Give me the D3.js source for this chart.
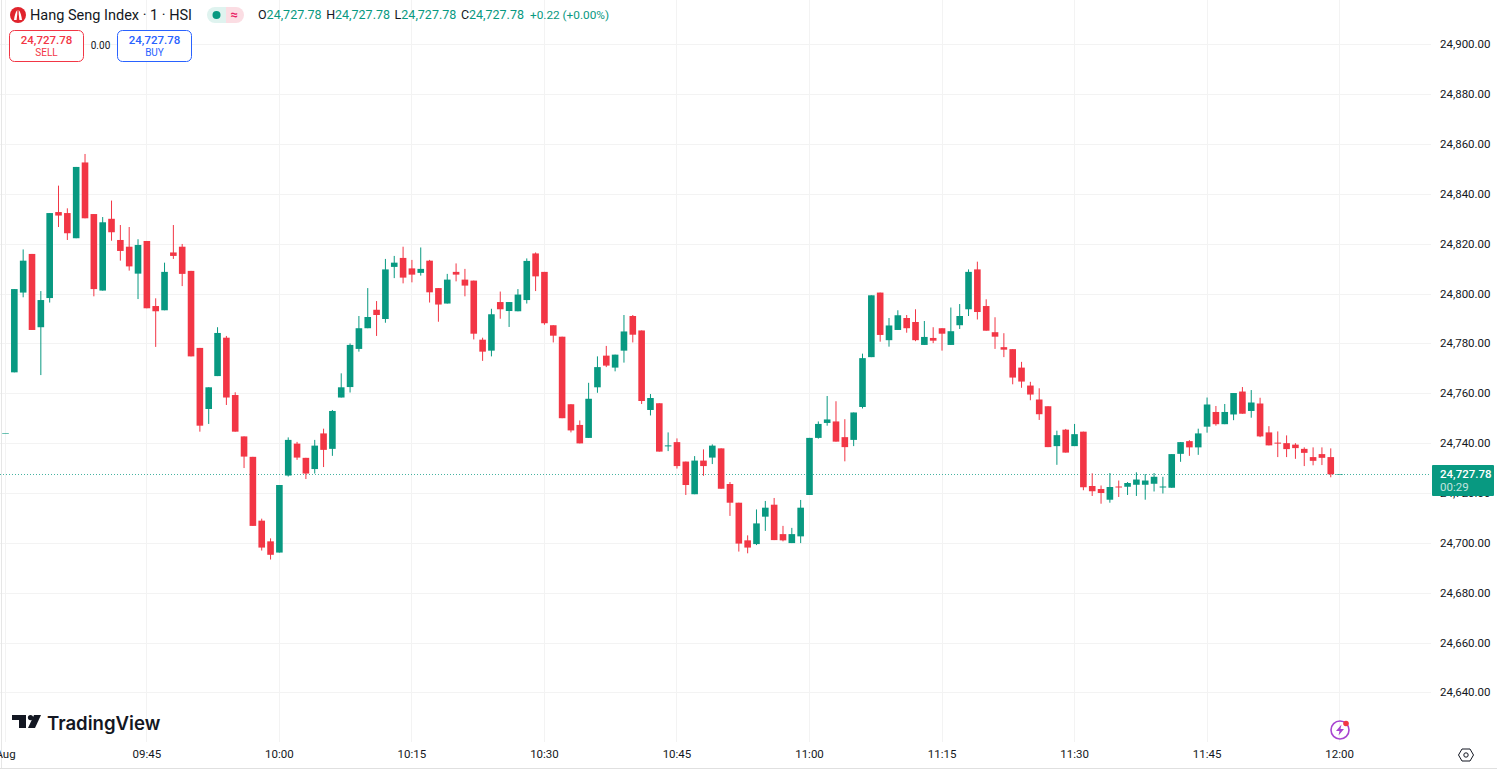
<!DOCTYPE html>
<html>

<head>
    <meta charset="utf-8">
    <style>
        html, body {
            margin: 0;
            padding: 0;
            background: #fff;
            overflow: hidden;
        }

        svg {
            display: block;
            font-family: Roboto, Arial, sans-serif;
        }

        .grid line {
            stroke: #f3f3f3;
            shape-rendering: crispEdges;
        }

        .axis .domain,
        .axis .tick line {
            display: none;
        }

        .axis .tick text {
            font-size: 11.5px;
            fill: #131722;
            font-family: Roboto, Arial, sans-serif;
        }
    </style>
</head>

<body>
    <svg width="1497" height="770"></svg>

    <script src="https://d3js.org/d3.v7.min.js"></script>
    <script>
        // one minute candles, first one is 09:29, last one is 12:00
        let startTime = Date.UTC(2025, 7, 1, 9, 29)

        let opens = [
            24744.4, 24768.6, 24800.6, 24816.1, 24786.7, 24798.4, 24832.9, 24832.5, 24822.4, 24852.8,
            24832.1, 24801.4, 24830.2, 24821.7, 24819, 24808.2, 24821.3, 24795.2, 24793.5, 24816.7,
            24819, 24809.3, 24778.4, 24753.9, 24767.1, 24782.5, 24759.5, 24742.9, 24734.7, 24709.1,
            24700.8, 24696.3, 24727.2, 24740, 24734.3, 24729.8, 24744.1, 24737.9, 24758.5, 24762.7,
            24778, 24786.3, 24793.7, 24790, 24810.9, 24814.5, 24810.3, 24808.5, 24813.4, 24802.4,
            24796.2, 24808.9, 24805.8, 24805.4, 24781.7, 24777.3, 24796.8, 24793.2, 24793.1, 24797.6,
            24816.3, 24808.9, 24787.5, 24782.9, 24755.8, 24747.5, 24742.3, 24762.6, 24775.3, 24770.5,
            24777.3, 24791.2, 24785.4, 24753.5, 24756.2, 24738.9, 24740.6, 24732.8, 24719.7, 24733.2,
            24734.4, 24738.1, 24723.8, 24716.3, 24701.2, 24699.7, 24710.7, 24715.5, 24703.7, 24700.1,
            24702.8, 24719.4, 24742.3, 24748.3, 24748.9, 24742.6, 24741.5, 24754.7, 24774.7, 24800.6,
            24781.5, 24785.6, 24790.4, 24788.8, 24779.6, 24782.4, 24786.3, 24779.6, 24787.5, 24793.9,
            24809.9, 24795.2, 24784.7, 24778.7, 24777.9, 24770.5, 24763.3, 24757.7, 24755, 24739,
            24745.6, 24739, 24744.8, 24723, 24721.8, 24717.5, 24722.8, 24722.7, 24723.5, 24723.5,
            24723.9, 24722.5, 24722.3, 24735.9, 24741, 24738.5, 24746.8, 24752.7, 24747.8, 24751.7,
            24760.9, 24753.1, 24756.1, 24744.5, 24740.4, 24740.2, 24739.6, 24737.9, 24734.6, 24735.8,
            24734.6, 24727.78
        ]

        let highs = [
            24744.4, 24802, 24817.9, 24816.1, 24801.2, 24832.5, 24843.5, 24834.4, 24851, 24856.2,
            24832.1, 24830.9, 24837.5, 24827.7, 24826.9, 24822, 24821.3, 24798.3, 24812.6, 24827.7,
            24820.1, 24809.3, 24778.4, 24762.6, 24786.7, 24783.2, 24760.6, 24742.9, 24734.7, 24709.9,
            24702, 24723.4, 24742.5, 24740.7, 24734.3, 24741.5, 24746, 24753.5, 24768.2, 24780.2,
            24791.2, 24802.4, 24797.2, 24814.1, 24815.3, 24819, 24813.7, 24818.7, 24813.7, 24802.4,
            24808.1, 24812.3, 24810.1, 24805.4, 24782.5, 24794.1, 24801, 24796.8, 24802, 24814.3,
            24816.7, 24808.9, 24787.5, 24782.9, 24755.8, 24749.3, 24764.4, 24775, 24779.2, 24775.7,
            24791.6, 24791.6, 24785.4, 24759.9, 24756.2, 24744.5, 24742.1, 24732.8, 24735, 24737.7,
            24739.7, 24738.1, 24724.6, 24716.3, 24703.2, 24713.6, 24717, 24718.2, 24707, 24706.2,
            24717.4, 24742.3, 24748.9, 24759.1, 24757, 24749.8, 24752.5, 24776.1, 24799.5, 24800.6,
            24790.4, 24793.5, 24791.6, 24793.9, 24789.2, 24786.7, 24786.3, 24794.6, 24796, 24809.9,
            24813, 24797.9, 24790.7, 24784.3, 24777.9, 24772.8, 24764.8, 24762.2, 24755, 24745.2,
            24745.9, 24747.9, 24744.8, 24728.1, 24723.2, 24728.2, 24725.2, 24724.6, 24728.5, 24727.8,
            24728.2, 24726.7, 24735.8, 24740.6, 24741.4, 24746, 24758.5, 24755.1, 24755.9, 24760.3,
            24762.7, 24761.5, 24758.4, 24747, 24744.9, 24743.3, 24740.2, 24738.5, 24738.5, 24738.5,
            24738.1, 24727.78
        ]

        let lows = [
            24744.4, 24768.6, 24798.7, 24785.6, 24767.5, 24796.6, 24826.9, 24821.7, 24822.4, 24830.4,
            24799.1, 24801.4, 24821.4, 24813.4, 24809.4, 24798, 24794.3, 24778.8, 24793.5, 24814.1,
            24803.2, 24775, 24744.8, 24747.9, 24767.1, 24755.5, 24744.8, 24730.2, 24707, 24697.1,
            24693.5, 24696.3, 24726.8, 24733.5, 24725.8, 24728, 24730.6, 24735.1, 24758.5, 24760.5,
            24776.9, 24786.3, 24783.2, 24788.5, 24806.4, 24804.3, 24804.7, 24807.4, 24796.6, 24788.9,
            24796.2, 24805.1, 24799.1, 24781.8, 24773.2, 24775, 24790.1, 24786.8, 24793.1, 24796.2,
            24801.2, 24787.7, 24780.6, 24750.2, 24744.5, 24740.1, 24742.3, 24760.4, 24770.7, 24769,
            24772.5, 24780.6, 24755.9, 24751.3, 24736.8, 24737, 24730, 24719.4, 24719.7, 24727.1,
            24731.8, 24721.9, 24711, 24696.7, 24696, 24699.3, 24705, 24701.3, 24700.8, 24700.1,
            24700.1, 24719.4, 24742, 24747.2, 24740.8, 24732.9, 24739, 24754.1, 24774.7, 24780.9,
            24778.9, 24785.6, 24784.5, 24781.1, 24779.6, 24780.3, 24777.3, 24779.6, 24786, 24791.2,
            24789.8, 24785.3, 24778, 24774.7, 24763.8, 24762.4, 24757.4, 24749.5, 24738.6, 24731.5,
            24736.4, 24739, 24721.3, 24719, 24715.9, 24716.3, 24718.6, 24719.4, 24719, 24717.5,
            24720.8, 24720, 24722.3, 24732.7, 24735.1, 24735.5, 24744.4, 24747.2, 24747.8, 24749.4,
            24752, 24750.4, 24742.6, 24739.3, 24734.6, 24734.6, 24733.9, 24731, 24731.3, 24731.4,
            24726.5, 24727.78
        ]

        let closes = [
            24744.4, 24802, 24813.4, 24785.6, 24797.6, 24832.5, 24831.5, 24824.4, 24851, 24830.4,
            24802, 24828.8, 24824.8, 24817.3, 24811.1, 24819.7, 24794.3, 24793.1, 24808.9, 24815.3,
            24808.1, 24775, 24747.2, 24762.6, 24784.4, 24758.5, 24744.8, 24734.8, 24707, 24698.3,
            24695.4, 24723.4, 24741.5, 24734.4, 24728, 24739.2, 24737.5, 24753.1, 24762.6, 24779.6,
            24786.3, 24790.8, 24791.6, 24809.9, 24812.6, 24806.6, 24807.8, 24810.1, 24800.7, 24795.8,
            24805.8, 24807.8, 24803.4, 24784.1, 24776.9, 24791.9, 24793.9, 24796.8, 24799.8, 24813.3,
            24807.1, 24788.3, 24783.3, 24750.2, 24745.3, 24740.1, 24758, 24770.7, 24771.3, 24775.7,
            24785, 24783.7, 24757.1, 24758.3, 24736.8, 24739.3, 24731, 24723.4, 24733.2, 24731,
            24739.2, 24721.9, 24716.3, 24699.9, 24698.3, 24708, 24714.3, 24701.3, 24701.2, 24703.7,
            24714.3, 24742.3, 24747.9, 24749.7, 24740.8, 24738.6, 24752.5, 24774.3, 24799.5, 24783.6,
            24787.4, 24791.5, 24786.3, 24781.5, 24782.8, 24781.3, 24784.1, 24785.1, 24791.2, 24808.9,
            24792.8, 24785.3, 24782.9, 24777.7, 24766.5, 24764.9, 24759.7, 24751.8, 24738.6, 24743.4,
            24736.4, 24743.8, 24722.5, 24720.9, 24720.2, 24722.6, 24722.6, 24724.2, 24725.6, 24725.2,
            24726.7, 24722.8, 24735.8, 24740.6, 24738.5, 24744.1, 24755.7, 24747.8, 24752.7, 24760.3,
            24752, 24756.5, 24742.9, 24739.3, 24740.1, 24737.8, 24738.2, 24736.3, 24733.1, 24734.3,
            24727.7, 24727.78
        ]

        let priceTicks = d3.range(24640, 24901, 20)
        let timeTicks = ["09:29", "09:45", "10:00", "10:15", "10:30", "10:45", "11:00", "11:15", "11:30", "11:45", "12:00"]
        let timeLabels = ["Aug", "09:45", "10:00", "10:15", "10:30", "10:45", "11:00", "11:15", "11:30", "11:45", "12:00"]
        let lastPrice = 24727.78

        let upColor = "#089981"
        let downColor = "#f23645"

        let svg = d3.select("svg")

        let data = opens.map(function (o, i) {
            return {
                time: new Date(startTime + i * 60000),
                open: o,
                high: highs[i],
                low: lows[i],
                close: closes[i]
            }
        })

        let paneRight = 1431
        let paneBottom = 742

        let parseTick = function (s) {
            let parts = s.split(":")
            return new Date(Date.UTC(2025, 7, 1, +parts[0], +parts[1]))
        }

        let x = d3.scaleUtc()
            .domain([data[0].time, data[data.length - 1].time])
            .range([5.5, 1339.6])

        let y = d3.scaleLinear()
            .domain([24640, 24900])
            .range([692.9, 44.8])

        // gridlines
        let grid = svg.append("g").attr("class", "grid")

        grid.selectAll(".h")
            .data(priceTicks)
            .join("line")
            .attr("class", "h")
            .attr("x1", 0)
            .attr("x2", paneRight)
            .attr("y1", d => y(d))
            .attr("y2", d => y(d))

        grid.selectAll(".v")
            .data(timeTicks.map(parseTick))
            .join("line")
            .attr("class", "v")
            .attr("x1", d => x(d))
            .attr("x2", d => x(d))
            .attr("y1", 0)
            .attr("y2", paneBottom)

        // left edge and bottom edge of the widget
        svg.append("line").attr("x1", 1).attr("x2", 1).attr("y1", 0).attr("y2", 768)
            .style("stroke", "#e6e6e6").style("shape-rendering", "crispEdges")
        svg.append("line").attr("x1", 0).attr("x2", 1497).attr("y1", 768).attr("y2", 768)
            .style("stroke", "#e0e0e0").style("shape-rendering", "crispEdges")

        // last price dotted line goes under the candles
        svg.append("line")
            .attr("x1", 0)
            .attr("x2", paneRight)
            .attr("y1", Math.round(y(lastPrice)) + .5)
            .attr("y2", Math.round(y(lastPrice)) + .5)
            .style("stroke", upColor)
            .style("stroke-width", 1)
            .style("stroke-opacity", .75)
            .style("stroke-dasharray", "1 2")

        let candles = svg.append("g")
            .selectAll("g")
            .data(data)
            .join("g")
            .style("color", d => d.close >= d.open ? upColor : downColor)

        candles.append("line")
            .attr("x1", d => x(d.time))
            .attr("x2", d => x(d.time))
            .attr("y1", d => y(d.high))
            .attr("y2", d => y(d.low))
            .style("stroke", "currentColor")
            .style("stroke-width", 1)

        // the flat candles snap to a pixel row so they stay a thin dash
        candles.append("rect")
            .attr("x", d => x(d.time) - 3.3)
            .attr("width", 6.6)
            .attr("y", d => d.high == d.low ? Math.round(y(d.open)) : y(Math.max(d.open, d.close)))
            .attr("height", d => Math.max(1, Math.abs(y(d.open) - y(d.close))))
            .style("fill", "currentColor")
            .style("opacity", d => d.high == d.low ? .6 : 1)

        // axes
        let yAxisSettings = d3.axisRight(y)
            .tickValues(priceTicks)
            .tickFormat(d3.format(",.2f"))
            .tickSize(0)
            .tickPadding(0)

        svg.append("g")
            .attr("class", "y axis")
            .attr("transform", "translate(1440,-0.7)")
            .call(yAxisSettings)

        let xAxisSettings = d3.axisBottom(x)
            .tickValues(timeTicks.map(parseTick))
            .tickFormat((d, i) => timeLabels[i])
            .tickSize(0)
            .tickPadding(0)

        svg.append("g")
            .attr("class", "x axis")
            .attr("transform", "translate(-0.5,750)")
            .call(xAxisSettings)

        // last price tag on the axis
        let tag = svg.append("g").attr("transform", "translate(1432," + Math.round(y(lastPrice)) + ")")
        tag.append("rect").attr("x", 0).attr("y", -9).attr("width", 62).attr("height", 31).attr("rx", 1).style("fill", upColor)
        tag.append("text").attr("x", 8).attr("y", 4).text(d3.format(",.2f")(lastPrice))
            .style("fill", "#fff").style("font-size", "11.5px").style("font-weight", 500)
        tag.append("text").attr("x", 8).attr("y", 17).text("00:29")
            .style("fill", "#fff").style("fill-opacity", .75).style("font-size", "11.5px")

        // legend row
        let legend = svg.append("g")
        legend.append("circle").attr("cx", 18).attr("cy", 15).attr("r", 8).style("fill", "#e0242d")
        legend.append("path").attr("d", "M17.3 10 C15.5 12 14.5 16 14 20 L16.6 20 L17.3 14 Z M18.7 10 C20.5 12 21.5 16 22 20 L19.4 20 L18.7 14 Z")
            .style("fill", "#fff")
        legend.append("text").attr("x", 30).attr("y", 20).text("Hang Seng Index · 1 · HSI")
            .style("font-size", "14.5px").style("fill", "#131722")

        legend.append("path").attr("d", "M226 7 H215 a8 8 0 0 0 0 16 H226 Z").style("fill", "#dff3ef")
        legend.append("path").attr("d", "M226 7 H236 a8 8 0 0 1 0 16 H226 Z").style("fill", "#fbdde3")
        legend.append("circle").attr("cx", 216.5).attr("cy", 15).attr("r", 4).style("fill", upColor)
        legend.append("text").attr("x", 234).attr("y", 19).attr("text-anchor", "middle").text("≈")
            .style("font-size", "13px").style("font-weight", 700).style("fill", "#e91e63")

        let ohlc = legend.append("text").attr("x", 258).attr("y", 19).style("font-size", "12.5px")
        let ohlcParts = [["O", "24,727.78"], ["H", "24,727.78"], ["L", "24,727.78"], ["C", "24,727.78"]]
        ohlcParts.forEach(function (p, i) {
            ohlc.append("tspan").attr("dx", i ? 4.6 : 0).text(p[0]).style("fill", "#131722")
            ohlc.append("tspan").text(p[1]).style("fill", upColor)
        })
        ohlc.append("tspan").attr("dx", 6).text("+0.22 (+0.00%)").style("fill", upColor).style("font-size", "11.8px")

        // sell and buy buttons
        let buttons = [
            { left: 9.5, color: downColor, label: "SELL" },
            { left: 117.5, color: "#2962ff", label: "BUY" }
        ]
        buttons.forEach(function (b) {
            svg.append("rect").attr("x", b.left).attr("y", 30.5).attr("width", 74).attr("height", 31).attr("rx", 5)
                .style("fill", "#fff").style("stroke", b.color)
            svg.append("text").attr("x", b.left + 37).attr("y", 44).attr("text-anchor", "middle").text("24,727.78")
                .style("fill", b.color).style("font-size", "11.5px").style("font-weight", 500)
            svg.append("text").attr("x", b.left + 37).attr("y", 56).attr("text-anchor", "middle").text(b.label)
                .style("fill", b.color).style("font-size", "10px")
        })
        svg.append("text").attr("x", 100.5).attr("y", 49).attr("text-anchor", "middle").text("0.00")
            .style("fill", "#131722").style("font-size", "10px")

        // logo
        let logo = svg.append("g").attr("transform", "translate(12,715)").style("fill", "#131722")
        logo.append("path").attr("d", "M0 0 H14 V13 H7 V5 H0 Z")
        logo.append("circle").attr("cx", 18.5).attr("cy", 2.6).attr("r", 2.6)
        logo.append("path").attr("d", "M22 0 H29 L23 13 H16 Z")
        svg.append("text").attr("x", 47).attr("y", 729.5).text("TradingView")
            .style("font-family", "Inter, Roboto, sans-serif").style("font-size", "18.6px").style("font-weight", 600).style("fill", "#131722")

        // lightning icon
        svg.append("circle").attr("cx", 1340).attr("cy", 730).attr("r", 9)
            .style("fill", "none").style("stroke", "#a845d0").style("stroke-width", 1.6)
        svg.append("path").attr("d", "M1341.5 724.5 L1336 731 H1339.5 L1338.5 735.5 L1344 729 H1340.5 Z").style("fill", "#a845d0")
        svg.append("circle").attr("cx", 1346).attr("cy", 723.5).attr("r", 2.8).style("fill", "#f23645")

        // settings icon
        svg.append("path").attr("d", "M1462 749 H1470 L1473.5 755 L1470 761 H1462 L1458.5 755 Z")
            .style("fill", "none").style("stroke", "#131722")
        svg.append("circle").attr("cx", 1466).attr("cy", 755).attr("r", 2.2)
            .style("fill", "none").style("stroke", "#131722")
    </script>
</body>

</html>
